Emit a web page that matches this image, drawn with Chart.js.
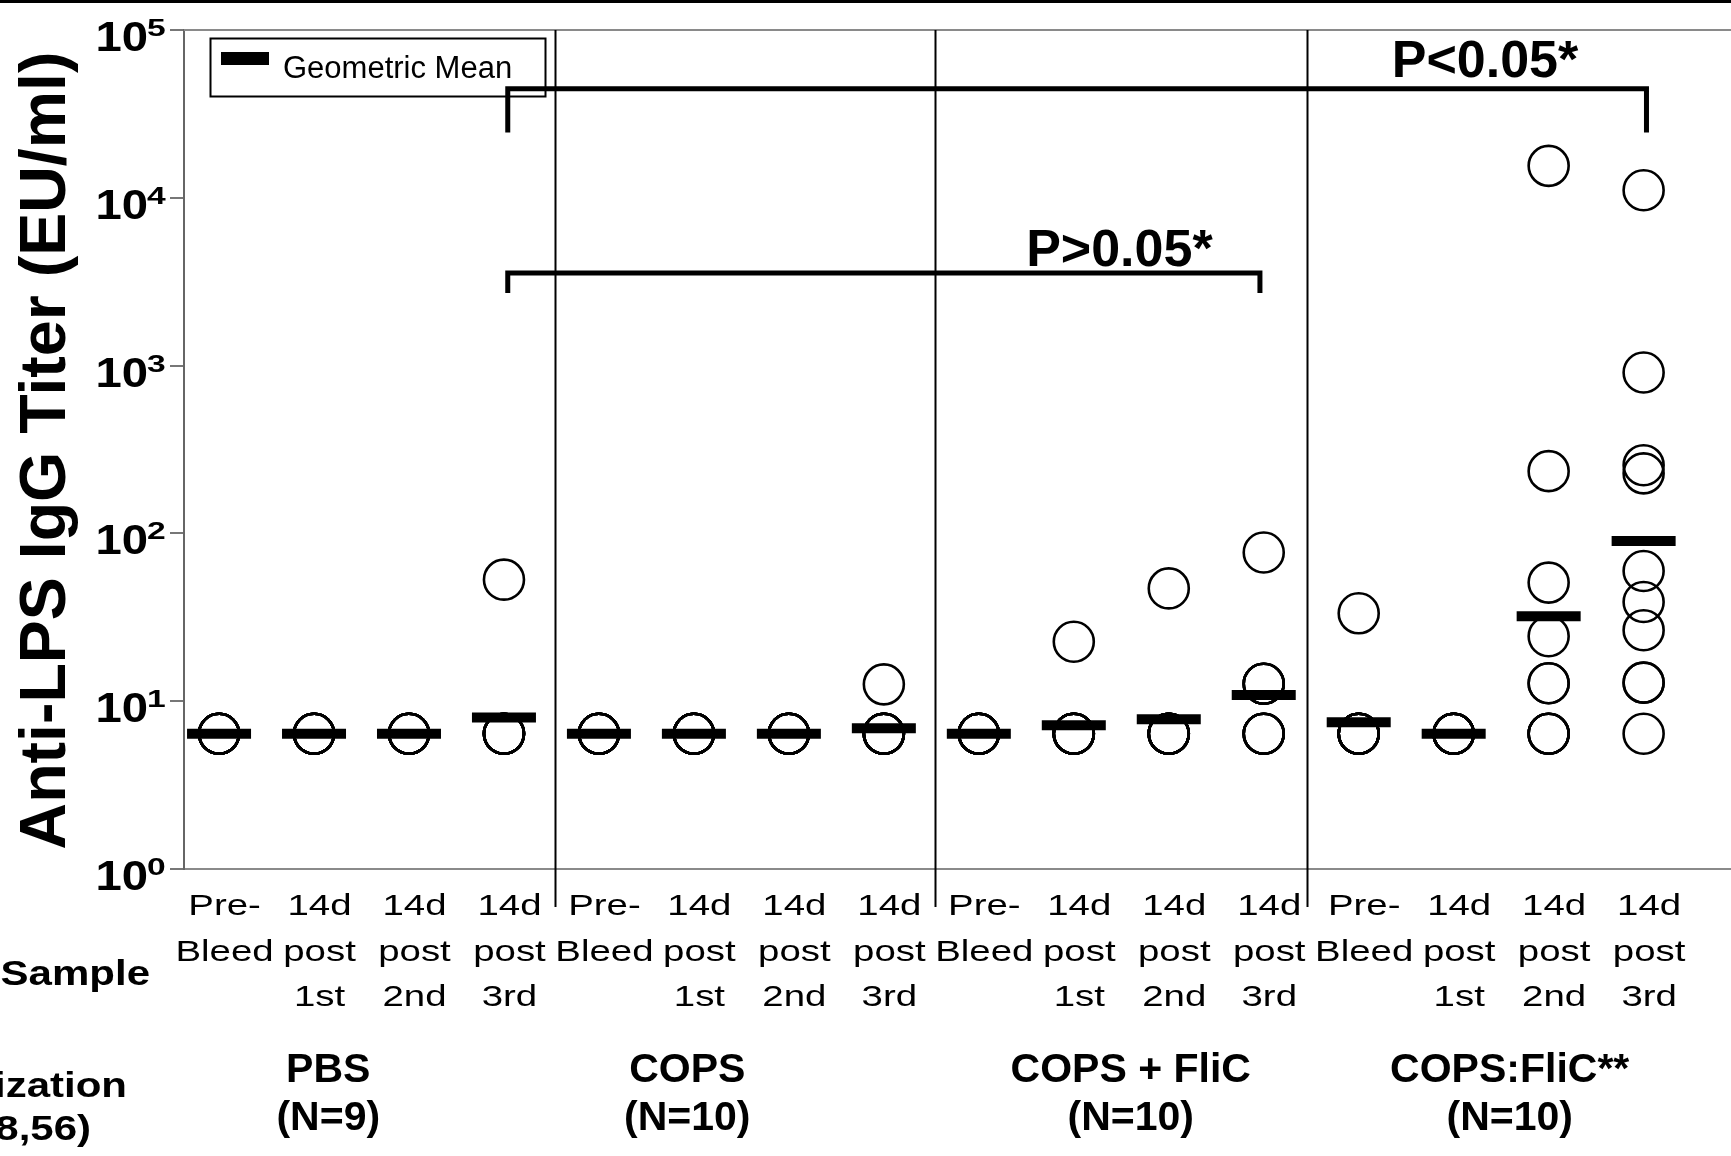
<!DOCTYPE html>
<html>
<head>
<meta charset="utf-8">
<title>Anti-LPS IgG Titer</title>
<script src="https://cdn.jsdelivr.net/npm/chart.js@4.4.1/dist/chart.umd.min.js"></script>
<style>
  html, body { margin: 0; padding: 0; background: #fff; overflow: hidden; }
  #wrap { width: 1731px; height: 1156px; }
</style>
</head>
<body>
<div id="wrap"><canvas id="chart" width="1731" height="1156"></canvas></div>
<script>
// ---- chart data ----
const groups = ['PBS', 'COPS', 'COPS + FliC', 'COPS:FliC**'];
const groupSizes = ['(N=9)', '(N=10)', '(N=10)', '(N=10)'];
const timepoints = [['Pre-', 'Bleed'], ['14d', 'post', '1st'], ['14d', 'post', '2nd'], ['14d', 'post', '3rd']];
const yTickValues = [1, 10, 100, 1000, 10000, 100000];

// individual anti-LPS IgG titers (EU/ml), one array per sample time point
const pbsTiters = [
  [6.4, 6.4, 6.4, 6.4, 6.4, 6.4, 6.4, 6.4, 6.4],
  [6.4, 6.4, 6.4, 6.4, 6.4, 6.4, 6.4, 6.4, 6.4],
  [6.4, 6.4, 6.4, 6.4, 6.4, 6.4, 6.4, 6.4, 6.4],
  [53, 6.4, 6.4, 6.4, 6.4, 6.4, 6.4, 6.4, 6.4]
];
const copsTiters = [
  [6.4, 6.4, 6.4, 6.4, 6.4, 6.4, 6.4, 6.4, 6.4, 6.4],
  [6.4, 6.4, 6.4, 6.4, 6.4, 6.4, 6.4, 6.4, 6.4, 6.4],
  [6.4, 6.4, 6.4, 6.4, 6.4, 6.4, 6.4, 6.4, 6.4, 6.4],
  [12.6, 6.4, 6.4, 6.4, 6.4, 6.4, 6.4, 6.4, 6.4, 6.4]
];
const copsPlusFlicTiters = [
  [6.4, 6.4, 6.4, 6.4, 6.4, 6.4, 6.4, 6.4, 6.4, 6.4],
  [22.6, 6.4, 6.4, 6.4, 6.4, 6.4, 6.4, 6.4, 6.4, 6.4],
  [47, 6.4, 6.4, 6.4, 6.4, 6.4, 6.4, 6.4, 6.4, 6.4],
  [77, 12.7, 12.7, 12.7, 12.7, 6.4, 6.4, 6.4, 6.4, 6.4]
];
const copsFlicConjTiters = [
  [33.4, 6.4, 6.4, 6.4, 6.4, 6.4, 6.4, 6.4, 6.4, 6.4],
  [6.4, 6.4, 6.4, 6.4, 6.4, 6.4, 6.4, 6.4, 6.4, 6.4],
  [15500, 235, 50.9, 24.4, 12.8, 12.8, 6.4, 6.4, 6.4, 6.4],
  [11100, 910, 255, 228, 59.7, 39, 26.5, 12.9, 12.9, 6.4]
];

// geometric mean titers per sample time point
const pbsGeoMean = [6.4, 6.4, 6.4, 8.0];
const copsGeoMean = [6.4, 6.4, 6.4, 6.9];
const copsPlusFlicGeoMean = [6.4, 7.2, 7.8, 10.9];
const copsFlicConjGeoMean = [7.5, 6.4, 32.1, 90];

// ---- build point lists ----
const titersByGroup = [pbsTiters, copsTiters, copsPlusFlicTiters, copsFlicConjTiters];
const meansByGroup = [pbsGeoMean, copsGeoMean, copsPlusFlicGeoMean, copsFlicConjGeoMean];
const categoryLabels = [];
const individualPoints = [];
const meanPoints = [];
titersByGroup.forEach((group, gi) => {
  group.forEach((values, ti) => {
    const x = gi * timepoints.length + ti;
    categoryLabels.push(timepoints[ti]);
    values.forEach(v => individualPoints.push({ x: x, y: v }));
    meanPoints.push({ x: x, y: meansByGroup[gi][ti] });
  });
});

// ---- annotation layout (in axis units) ----
const groupDividers = [3.54, 7.54, 11.46];
const groupLabelCenters = [1.15, 4.93, 9.6, 13.59];
const comparisons = [
  { from: 3.04, to: 15.03, level: 44600, drop: 24500, text: 'P<0.05*', textX: 13.33, textY: 52500 },
  { from: 3.04, to: 10.96, level: 3565, drop: 2710, text: 'P>0.05*', textX: 9.48, textY: 3925 }
];

const SANS = '"Liberation Sans", Arial, Helvetica, sans-serif';

function stretchText(ctx, text, x, y, font, align, hscale) {
  ctx.save();
  ctx.translate(x, y);
  ctx.scale(hscale, 1);
  ctx.font = font;
  ctx.textAlign = align;
  ctx.textBaseline = 'alphabetic';
  ctx.fillStyle = '#000';
  ctx.fillText(text, 0, 0);
  ctx.restore();
}

const figureDecor = {
  id: 'figureDecor',
  beforeDraw(chart) {
    const { ctx, width, height } = chart;
    ctx.save();
    ctx.fillStyle = '#fff';
    ctx.fillRect(0, 0, width, height);
    ctx.fillStyle = '#000';
    ctx.fillRect(0, 0, width, 3);
    ctx.restore();
  },
  afterDraw(chart) {
    const { ctx, chartArea } = chart;
    const xs = chart.scales.x;
    const ys = chart.scales.y;
    ctx.save();

    // top frame line of the plot
    ctx.strokeStyle = '#8a8a8a';
    ctx.lineWidth = 2;
    ctx.beginPath();
    ctx.moveTo(chartArea.left, chartArea.top);
    ctx.lineTo(chartArea.right, chartArea.top);
    ctx.stroke();

    // dividers between vaccine groups
    ctx.strokeStyle = '#000';
    ctx.lineWidth = 2;
    groupDividers.forEach(d => {
      const px = Math.round(xs.getPixelForValue(d)) + 0.5;
      ctx.beginPath();
      ctx.moveTo(px, chartArea.top);
      ctx.lineTo(px, chartArea.bottom + 38);
      ctx.stroke();
    });

    // legend box
    const lx = chartArea.left + 26, ly = chartArea.top + 8;
    ctx.lineWidth = 2;
    ctx.strokeStyle = '#000';
    ctx.strokeRect(lx + 0.5, ly + 0.5, 335, 58);
    ctx.fillStyle = '#000';
    ctx.fillRect(lx + 11, ly + 14, 48, 13);
    stretchText(ctx, 'Geometric Mean', lx + 73, ly + 40, '31px ' + SANS, 'left', 1);

    // comparison brackets
    ctx.lineWidth = 5;
    ctx.lineJoin = 'miter';
    ctx.lineCap = 'butt';
    comparisons.forEach(c => {
      const x1 = xs.getPixelForValue(c.from);
      const x2 = xs.getPixelForValue(c.to);
      const yl = ys.getPixelForValue(c.level);
      const yd = ys.getPixelForValue(c.drop);
      ctx.beginPath();
      ctx.moveTo(x1, yd);
      ctx.lineTo(x1, yl);
      ctx.lineTo(x2, yl);
      ctx.lineTo(x2, yd);
      ctx.stroke();
      stretchText(ctx, c.text, xs.getPixelForValue(c.textX), ys.getPixelForValue(c.textY),
        'bold 52px ' + SANS, 'center', 1);
    });

    // y tick labels as powers of ten
    ys.ticks.forEach(t => {
      const py = ys.getPixelForValue(t.value);
      const exp = Math.round(Math.log10(t.value));
      stretchText(ctx, '10', 148, py + 21, 'bold 43px ' + SANS, 'right', 1.1);
      stretchText(ctx, String(exp), 147, py + 6, 'bold 24px ' + SANS, 'left', 1.4);
    });

    // y axis title
    ctx.save();
    ctx.translate(65, (chartArea.top + chartArea.bottom) / 2 + 1);
    ctx.rotate(-Math.PI / 2);
    ctx.font = 'bold 64.5px ' + SANS;
    ctx.textAlign = 'center';
    ctx.textBaseline = 'alphabetic';
    ctx.fillStyle = '#000';
    ctx.fillText('Anti-LPS IgG Titer (EU/ml)', 0, 0);
    ctx.restore();

    // sample time point labels
    categoryLabels.forEach((lines, i) => {
      const px = xs.getPixelForValue(i) + 5.5;
      lines.forEach((line, k) => {
        stretchText(ctx, line, px, chartArea.bottom + 46 + k * 45.5, '30px ' + SANS, 'center', 1.28);
      });
    });

    // row headings on the left
    stretchText(ctx, 'Sample', 150, 985, 'bold 35px ' + SANS, 'right', 1.2);
    stretchText(ctx, 'Immunization', 127, 1097, 'bold 35px ' + SANS, 'right', 1.2);
    stretchText(ctx, '(Days 0,28,56)', 91, 1140, 'bold 35px ' + SANS, 'right', 1.2);

    // vaccine group labels
    groups.forEach((g, gi) => {
      const px = xs.getPixelForValue(groupLabelCenters[gi]);
      stretchText(ctx, g, px, 1082, 'bold 41px ' + SANS, 'center', 1);
      stretchText(ctx, groupSizes[gi], px, 1130, 'bold 41px ' + SANS, 'center', 1);
    });

    ctx.restore();
  }
};

new Chart(document.getElementById('chart'), {
  type: 'scatter',
  data: {
    datasets: [
      {
        label: 'Geometric Mean',
        data: meanPoints,
        order: 0,
        showLine: false,
        pointStyle: 'line',
        pointRadius: 32,
        pointHoverRadius: 32,
        pointBorderWidth: 10,
        pointHoverBorderWidth: 10,
        pointBorderColor: '#000',
        pointBackgroundColor: '#000',
        borderColor: '#000',
        backgroundColor: '#000'
      },
      {
        label: 'Individual titer',
        data: individualPoints,
        order: 1,
        showLine: false,
        pointStyle: 'circle',
        pointRadius: 20,
        pointHoverRadius: 20,
        pointBorderWidth: 2.6,
        pointHoverBorderWidth: 2.6,
        pointBorderColor: '#000',
        pointBackgroundColor: 'rgba(0,0,0,0)',
        borderColor: '#000',
        backgroundColor: 'rgba(0,0,0,0)'
      }
    ]
  },
  options: {
    responsive: false,
    animation: false,
    devicePixelRatio: 1,
    events: [],
    layout: { autoPadding: false, padding: { left: 0, right: 0, top: 30, bottom: 0 } },
    plugins: {
      legend: { display: false },
      tooltip: { enabled: false },
      title: { display: false }
    },
    scales: {
      x: {
        type: 'linear',
        min: -0.369,
        max: 15.92,
        afterBuildTicks: s => { s.ticks = categoryLabels.map((_, i) => ({ value: i })); },
        afterFit: s => { s.height = 287; },
        ticks: { display: false },
        grid: { display: false },
        border: { display: true, color: '#8a8a8a', width: 2 }
      },
      y: {
        type: 'logarithmic',
        min: 1,
        max: 100000,
        afterBuildTicks: s => { s.ticks = yTickValues.map(v => ({ value: v })); },
        afterFit: s => { s.width = 184; },
        ticks: { display: false },
        grid: { display: true, drawOnChartArea: false, drawTicks: true, tickLength: 14, color: '#777', lineWidth: 2 },
        border: { display: true, color: '#666', width: 2 }
      }
    }
  },
  plugins: [figureDecor]
});
</script>
</body>
</html>
